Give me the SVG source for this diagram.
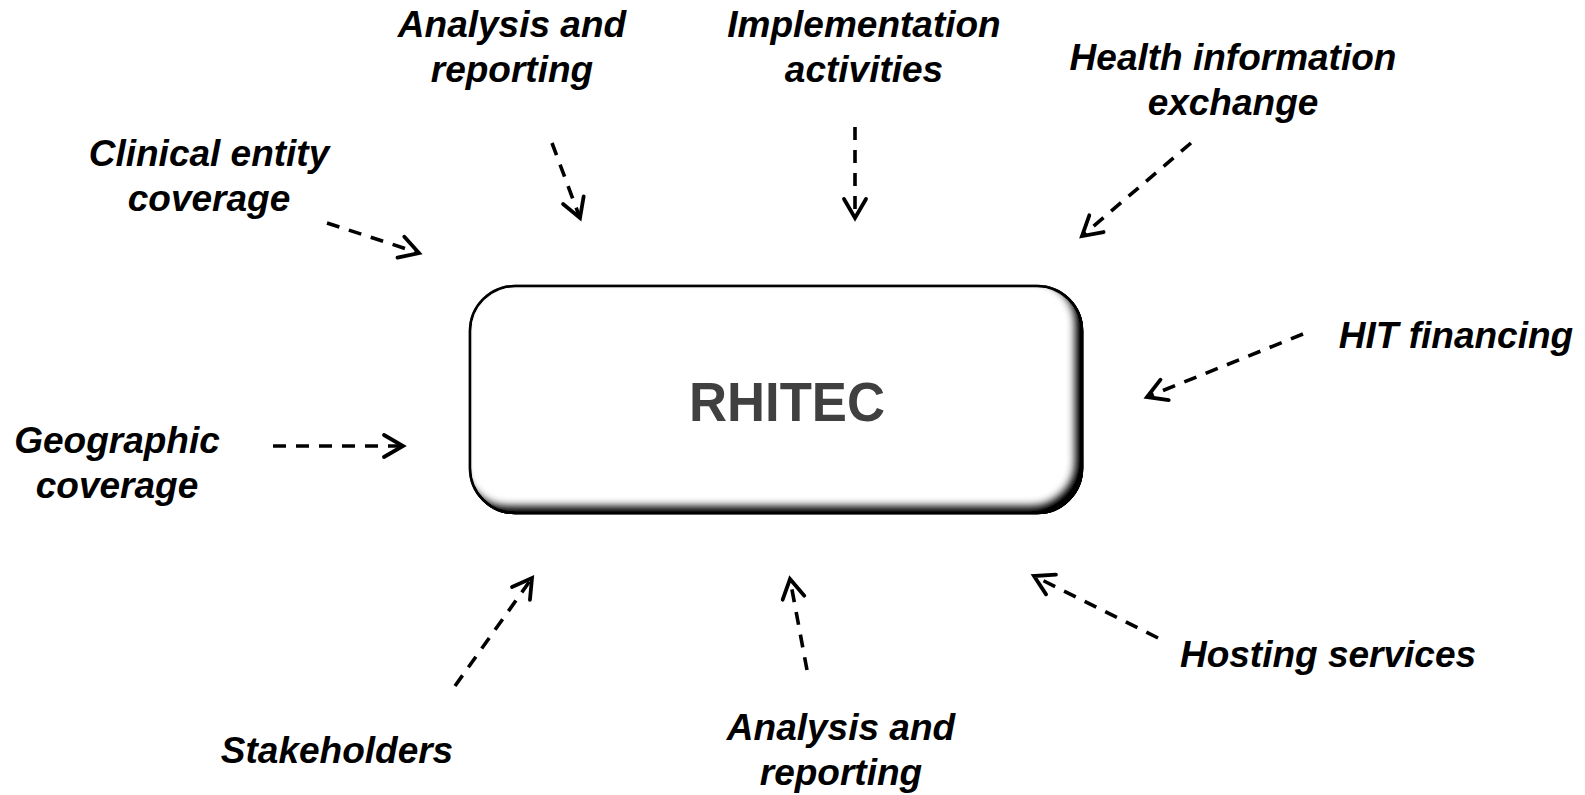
<svg xmlns="http://www.w3.org/2000/svg" width="1585" height="795" viewBox="0 0 1585 795">
<style>
.lbl{font-family:"Liberation Sans",Arial,sans-serif;font-weight:bold;font-style:italic;font-size:37px;fill:#000;text-anchor:middle}
.title{font-family:"Liberation Sans",Arial,sans-serif;font-weight:bold;font-size:56px;fill:#404040;text-anchor:middle}
.conn{fill:none;stroke:#000;stroke-width:3.6;stroke-dasharray:13 10}
</style>
<defs>
<marker id="arr" markerUnits="userSpaceOnUse" markerWidth="32" markerHeight="32" viewBox="-26 -16 32 32" refX="0" refY="0" orient="auto">
<path d="M-19,-11 L0,0 L-19,11" fill="none" stroke="#000" stroke-width="3.8" stroke-linecap="round" stroke-linejoin="miter"/>
</marker>
<filter id="inner" x="-5%" y="-5%" width="110%" height="110%">
<feFlood flood-color="#000" result="f"/>
<feComposite in="f" in2="SourceAlpha" operator="out" result="inv"/>
<feGaussianBlur in="inv" stdDeviation="5" result="b"/>
<feOffset in="b" dx="-7" dy="-7" result="o"/>
<feComposite in="o" in2="SourceAlpha" operator="in" result="sh"/>
<feGaussianBlur in="inv" stdDeviation="2" result="b2"/>
<feComposite in="b2" in2="SourceAlpha" operator="in" result="edge"/>
<feMerge><feMergeNode in="SourceGraphic"/><feMergeNode in="sh"/><feMergeNode in="sh"/><feMergeNode in="sh"/><feMergeNode in="edge"/></feMerge>
</filter>
</defs>
<rect width="1585" height="795" fill="#fff"/>
<g id="rhitec">
<rect x="470" y="286" width="612" height="227" rx="45" ry="45" fill="#fff" stroke="#000" stroke-width="2.5" filter="url(#inner)"/>
<text class="title" x="787" y="421" textLength="196" lengthAdjust="spacingAndGlyphs">RHITEC</text>
</g>
<g id="analysis-top"><text class="lbl" x="512" y="37"><tspan x="512">Analysis and</tspan><tspan x="512" dy="45">reporting</tspan></text></g>
<g id="implementation"><text class="lbl" x="864" y="37"><tspan x="864">Implementation</tspan><tspan x="864" dy="45">activities</tspan></text></g>
<g id="hie"><text class="lbl" x="1233" y="70"><tspan x="1233">Health information</tspan><tspan x="1233" dy="45">exchange</tspan></text></g>
<g id="clinical"><text class="lbl" x="209" y="166"><tspan x="209">Clinical entity</tspan><tspan x="209" dy="45">coverage</tspan></text></g>
<g id="hit"><text class="lbl" x="1456" y="348">HIT financing</text></g>
<g id="geographic"><text class="lbl" x="117" y="453"><tspan x="117">Geographic</tspan><tspan x="117" dy="45">coverage</tspan></text></g>
<g id="hosting"><text class="lbl" x="1328" y="667">Hosting services</text></g>
<g id="stakeholders"><text class="lbl" x="337" y="763">Stakeholders</text></g>
<g id="analysis-bottom"><text class="lbl" x="841" y="740"><tspan x="841">Analysis and</tspan><tspan x="841" dy="45">reporting</tspan></text></g>
<g id="connectors">
<line class="conn" x1="327" y1="223" x2="419" y2="253" marker-end="url(#arr)"/>
<line class="conn" x1="552" y1="143" x2="580" y2="218" marker-end="url(#arr)"/>
<line class="conn" x1="855" y1="127" x2="855" y2="218" marker-end="url(#arr)"/>
<line class="conn" x1="1191" y1="143" x2="1082" y2="236" marker-end="url(#arr)"/>
<line class="conn" x1="1303" y1="334" x2="1147" y2="397" marker-end="url(#arr)"/>
<line class="conn" x1="273" y1="446" x2="403" y2="446" marker-end="url(#arr)"/>
<line class="conn" x1="455" y1="686" x2="532" y2="578" marker-end="url(#arr)"/>
<line class="conn" x1="807" y1="670" x2="790" y2="579" marker-end="url(#arr)"/>
<line class="conn" x1="1158" y1="638" x2="1034" y2="576" marker-end="url(#arr)"/>
</g>
</svg>
